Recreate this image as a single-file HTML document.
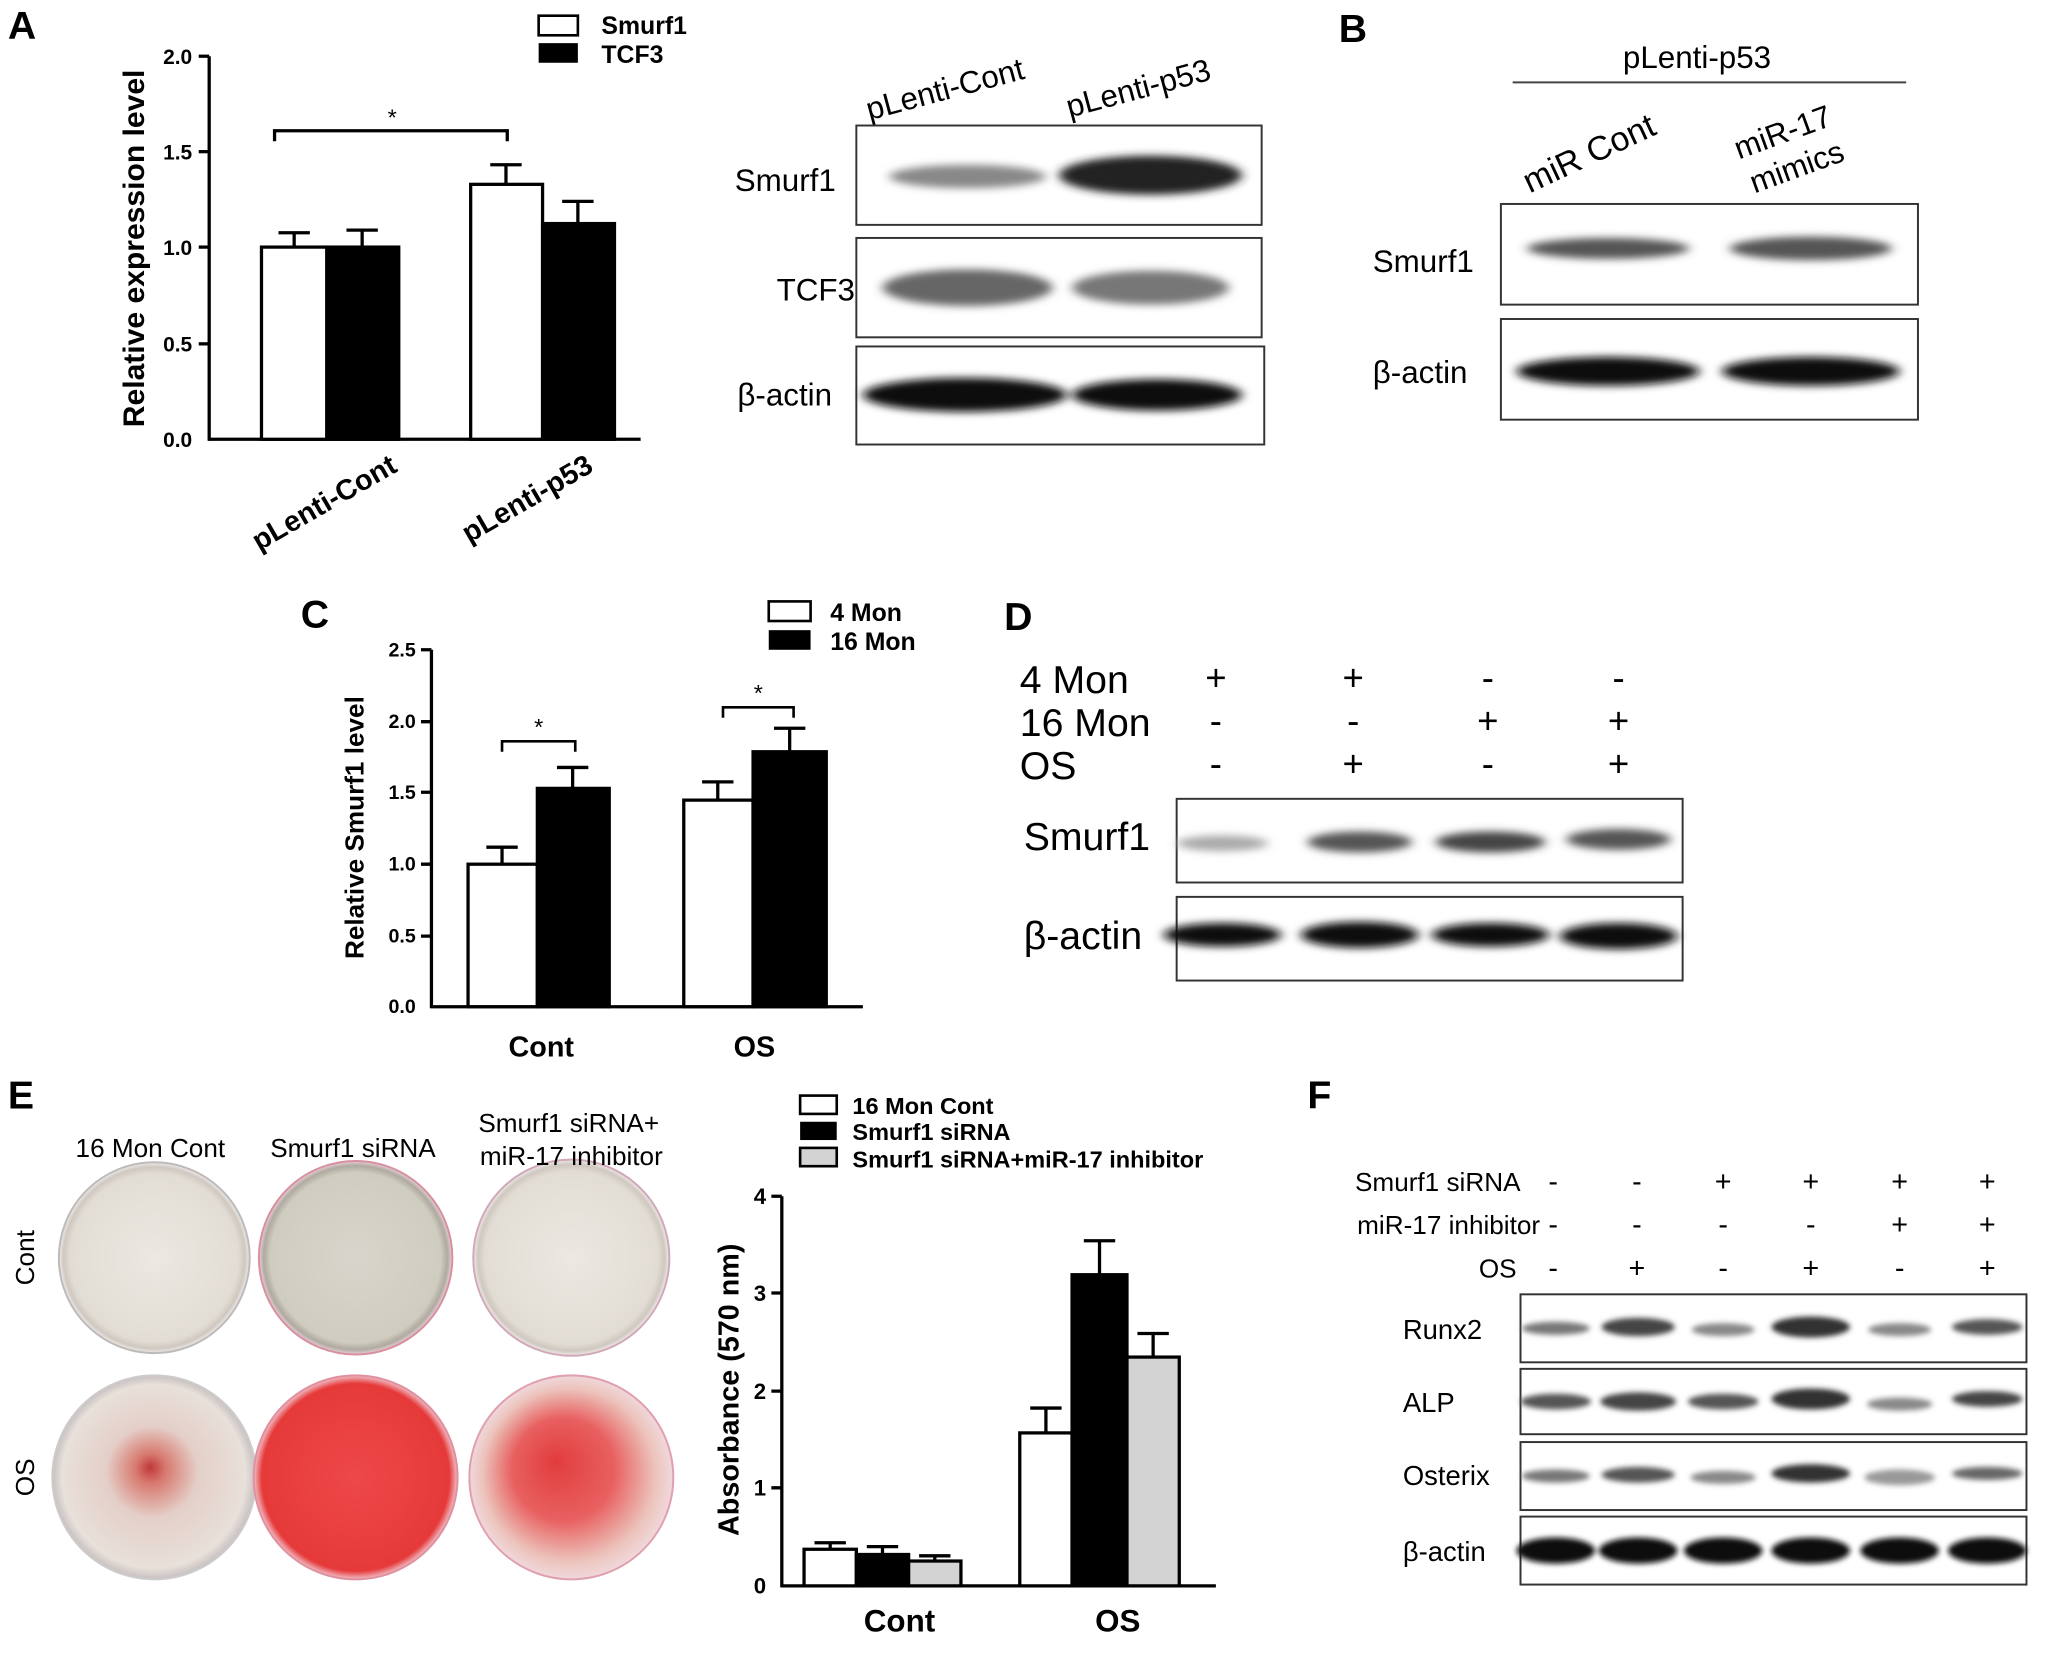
<!DOCTYPE html>
<html><head><meta charset="utf-8"><style>
html,body{margin:0;padding:0;background:#fff;}
svg{display:block;}
text{font-family:"Liberation Sans",Arial,sans-serif;}
</style></head><body>
<svg width="2050" height="1657" viewBox="0 0 1568 1267.4" xmlns="http://www.w3.org/2000/svg">
<defs>
<filter id="bl" x="-30%" y="-100%" width="160%" height="300%"><feGaussianBlur stdDeviation="4 3"/></filter>
<filter id="bl2" x="-30%" y="-100%" width="160%" height="300%"><feGaussianBlur stdDeviation="2"/></filter>
<radialGradient id="dw" cx="50%" cy="50%" r="50%"><stop offset="0" stop-color="#ece8e2"/><stop offset="0.88" stop-color="#e2ddd4"/><stop offset="0.95" stop-color="#cfc8c0"/><stop offset="1" stop-color="#f0eaea"/></radialGradient>
<radialGradient id="dg" cx="50%" cy="50%" r="50%"><stop offset="0" stop-color="#d8d6cc"/><stop offset="0.88" stop-color="#cfccc0"/><stop offset="0.95" stop-color="#b0aaa0"/><stop offset="1" stop-color="#e8d0d8"/></radialGradient>
<radialGradient id="dp" cx="50%" cy="50%" r="50%" fx="48%" fy="45%"><stop offset="0" stop-color="#c03838"/><stop offset="0.15" stop-color="#d87a70"/><stop offset="0.45" stop-color="#e4cfc8"/><stop offset="0.9" stop-color="#e8e0da"/><stop offset="1" stop-color="#c8c0c0"/></radialGradient>
<radialGradient id="dr" cx="50%" cy="50%" r="50%"><stop offset="0" stop-color="#ee4848"/><stop offset="0.92" stop-color="#e63a3a"/><stop offset="1" stop-color="#f0c0c8"/></radialGradient>
<radialGradient id="dr2" cx="50%" cy="50%" r="50%" fx="42%" fy="42%"><stop offset="0" stop-color="#e23c3c"/><stop offset="0.5" stop-color="#e86060"/><stop offset="0.85" stop-color="#ecc4bc"/><stop offset="1" stop-color="#f0d8dc"/></radialGradient>
</defs>

<g font-weight="bold" font-size="30">
<text x="6" y="30">A</text><text x="1024" y="32">B</text><text x="230" y="480">C</text>
<text x="768" y="482">D</text><text x="6" y="848">E</text><text x="1000" y="848">F</text>
</g>

<g stroke="#000" stroke-width="2.5" fill="none">
<line x1="160" y1="43" x2="160" y2="337"/><line x1="159" y1="336" x2="490" y2="336"/>
<line x1="152" y1="43" x2="160" y2="43"/><line x1="152" y1="116" x2="160" y2="116"/><line x1="152" y1="189" x2="160" y2="189"/><line x1="152" y1="263" x2="160" y2="263"/>
<rect x="200" y="189" width="50" height="147" fill="#fff"/><rect x="250" y="189" width="55" height="147" fill="#000"/>
<rect x="360" y="141" width="55" height="195" fill="#fff"/><rect x="415" y="171" width="55" height="165" fill="#000"/>
<path d="M225 189V178M213 178h24M277 189V176M265 176h24M387 141V126M375 126h24M442 171V154M430 154h24"/>
<path d="M210 108V100H388V108"/>
</g>
<g font-size="16" font-weight="bold" text-anchor="end">
<text x="147" y="49">2.0</text><text x="147" y="122">1.5</text><text x="147" y="195">1.0</text><text x="147" y="269">0.5</text><text x="147" y="342">0.0</text>
</g>
<text x="300" y="96" font-size="18" text-anchor="middle">*</text>
<text transform="translate(110,190) rotate(-90)" font-size="23" font-weight="bold" text-anchor="middle">Relative expression level</text>
<text transform="translate(305,360) rotate(-30)" font-size="22" font-weight="bold" text-anchor="end">pLenti-Cont</text>
<text transform="translate(455,360) rotate(-30)" font-size="22" font-weight="bold" text-anchor="end">pLenti-p53</text>
<rect x="412" y="12" width="30" height="15" fill="#fff" stroke="#000" stroke-width="2"/><rect x="412" y="33" width="30" height="15" fill="#000"/>
<text x="460" y="26" font-size="19" font-weight="bold">Smurf1</text><text x="460" y="48" font-size="19" font-weight="bold">TCF3</text>

<text transform="translate(665,92) rotate(-15)" font-size="24">pLenti-Cont</text>
<text transform="translate(818,90) rotate(-15)" font-size="24">pLenti-p53</text>
<g fill="#fff" stroke="#333" stroke-width="1.5">
<rect x="655" y="96" width="310" height="76"/><rect x="655" y="182" width="310" height="76"/><rect x="655" y="265" width="312" height="75"/>
</g>
<g font-size="24"><text x="562" y="146">Smurf1</text><text x="594" y="230">TCF3</text><text x="564" y="310">β-actin</text></g>
<g filter="url(#bl)">
<ellipse cx="740" cy="135" rx="60" ry="9" fill="#888"/><ellipse cx="880" cy="134" rx="70" ry="15" fill="#222"/>
<ellipse cx="740" cy="220" rx="65" ry="14" fill="#666"/><ellipse cx="880" cy="220" rx="60" ry="13" fill="#777"/>
<ellipse cx="738" cy="302" rx="78" ry="13" fill="#111"/><ellipse cx="885" cy="302" rx="65" ry="12" fill="#111"/>
</g>

<text x="1298" y="52" font-size="24" text-anchor="middle">pLenti-p53</text>
<line x1="1157" y1="63" x2="1458" y2="63" stroke="#444" stroke-width="1.5"/>
<text transform="translate(1170,148) rotate(-25)" font-size="26">miR Cont</text>
<text transform="translate(1330,122) rotate(-20)" font-size="24">miR-17</text>
<text transform="translate(1342,148) rotate(-20)" font-size="24">mimics</text>
<g fill="#fff" stroke="#333" stroke-width="1.5"><rect x="1148" y="156" width="319" height="77"/><rect x="1148" y="244" width="319" height="77"/></g>
<g font-size="24"><text x="1050" y="208">Smurf1</text><text x="1050" y="293">β-actin</text></g>
<g filter="url(#bl)">
<ellipse cx="1230" cy="190" rx="62" ry="8" fill="#555"/><ellipse cx="1385" cy="190" rx="62" ry="9" fill="#555"/>
<ellipse cx="1230" cy="284" rx="70" ry="11" fill="#111"/><ellipse cx="1385" cy="284" rx="68" ry="11" fill="#111"/>
</g>

<g stroke="#000" stroke-width="2.5" fill="none">
<line x1="330" y1="497" x2="330" y2="771"/><line x1="329" y1="770" x2="660" y2="770"/>
<path d="M322 497h8M322 552h8M322 606h8M322 661h8M322 716h8"/>
<rect x="358" y="661" width="53" height="109" fill="#fff"/><rect x="411" y="603" width="55" height="167" fill="#000"/>
<rect x="523" y="612" width="53" height="158" fill="#fff"/><rect x="576" y="575" width="56" height="195" fill="#000"/>
<path d="M384 661V648M372 648h24M438 603V587M426 587h24M549 612V598M537 598h24M604 575V557M592 557h24"/>
<path d="M384 575V567H440V575M553 549V541H607V549" stroke-width="2"/>
</g>
<g font-size="15" font-weight="bold" text-anchor="end">
<text x="318" y="502">2.5</text><text x="318" y="557">2.0</text><text x="318" y="611">1.5</text><text x="318" y="666">1.0</text><text x="318" y="721">0.5</text><text x="318" y="775">0.0</text>
</g>
<text x="412" y="562" font-size="18" text-anchor="middle">*</text><text x="580" y="536" font-size="18" text-anchor="middle">*</text>
<text transform="translate(278,633) rotate(-90)" font-size="20" font-weight="bold" text-anchor="middle">Relative Smurf1 level</text>
<text x="414" y="808" font-size="22" font-weight="bold" text-anchor="middle">Cont</text><text x="577" y="808" font-size="22" font-weight="bold" text-anchor="middle">OS</text>
<rect x="588" y="460" width="32" height="15" fill="#fff" stroke="#000" stroke-width="2"/><rect x="588" y="482" width="32" height="15" fill="#000"/>
<text x="635" y="475" font-size="19" font-weight="bold">4 Mon</text><text x="635" y="497" font-size="19" font-weight="bold">16 Mon</text>

<g font-size="30"><text x="780" y="530">4 Mon</text><text x="780" y="563">16 Mon</text><text x="780" y="596">OS</text></g>
<g font-size="28" text-anchor="middle">
<text x="930" y="528">+</text><text x="1035" y="528">+</text><text x="1138" y="528">-</text><text x="1238" y="528">-</text>
<text x="930" y="561">-</text><text x="1035" y="561">-</text><text x="1138" y="561">+</text><text x="1238" y="561">+</text>
<text x="930" y="594">-</text><text x="1035" y="594">+</text><text x="1138" y="594">-</text><text x="1238" y="594">+</text>
</g>
<g fill="#fff" stroke="#333" stroke-width="1.5"><rect x="900" y="611" width="387" height="64"/><rect x="900" y="686" width="387" height="64"/></g>
<g font-size="30"><text x="783" y="650">Smurf1</text><text x="783" y="726">β-actin</text></g>
<g filter="url(#bl)">
<ellipse cx="935" cy="645" rx="35" ry="6" fill="#aaa"/><ellipse cx="1040" cy="644" rx="40" ry="8" fill="#555"/>
<ellipse cx="1140" cy="644" rx="42" ry="8" fill="#444"/><ellipse cx="1238" cy="642" rx="40" ry="8" fill="#555"/>
<ellipse cx="935" cy="715" rx="45" ry="9" fill="#111"/><ellipse cx="1040" cy="715" rx="45" ry="10" fill="#111"/>
<ellipse cx="1140" cy="715" rx="45" ry="9" fill="#111"/><ellipse cx="1238" cy="716" rx="45" ry="10" fill="#111"/>
</g>

<circle cx="118" cy="962" r="73" fill="url(#dw)" stroke="#bbb" stroke-width="1.5"/>
<circle cx="272" cy="962" r="74" fill="url(#dg)" stroke="#d890a0" stroke-width="1.5"/>
<circle cx="437" cy="962" r="75" fill="url(#dw)" stroke="#d0a8b8" stroke-width="1.5"/>
<circle cx="118" cy="1130" r="78" fill="url(#dp)" stroke="#ccc" stroke-width="1.5"/>
<circle cx="272" cy="1130" r="78" fill="url(#dr)" stroke="#e090a0" stroke-width="1.5"/>
<circle cx="437" cy="1130" r="78" fill="url(#dr2)" stroke="#e0a0b0" stroke-width="1.5"/>
<g font-size="20"><text x="115" y="885" text-anchor="middle">16 Mon Cont</text><text x="270" y="885" text-anchor="middle">Smurf1 siRNA</text>
<text x="435" y="866" text-anchor="middle">Smurf1 siRNA+</text><text x="437" y="891" text-anchor="middle">miR-17 inhibitor</text></g>
<text transform="translate(26,962) rotate(-90)" font-size="20" text-anchor="middle">Cont</text>
<text transform="translate(26,1130) rotate(-90)" font-size="20" text-anchor="middle">OS</text>

<g stroke="#000" stroke-width="2.5" fill="none">
<line x1="598" y1="915" x2="598" y2="1214"/><line x1="597" y1="1213" x2="930" y2="1213"/>
<path d="M590 915h8M590 989h8M590 1064h8M590 1138h8"/>
<rect x="615" y="1185" width="40" height="28" fill="#fff"/><rect x="655" y="1189" width="40" height="24" fill="#000"/><rect x="695" y="1194" width="40" height="19" fill="#d3d3d3"/>
<rect x="780" y="1096" width="40" height="117" fill="#fff"/><rect x="820" y="975" width="42" height="238" fill="#000"/><rect x="862" y="1038" width="40" height="175" fill="#d3d3d3"/>
<path d="M635 1185V1180M623 1180h24M675 1189V1183M663 1183h24M715 1194V1190M703 1190h24"/>
<path d="M800 1096V1077M788 1077h24M841 975V949M829 949h24M882 1038V1020M870 1020h24"/>
</g>
<g font-size="17" font-weight="bold" text-anchor="end">
<text x="586" y="921">4</text><text x="586" y="995">3</text><text x="586" y="1070">2</text><text x="586" y="1144">1</text><text x="586" y="1219">0</text>
</g>
<text transform="translate(565,1063) rotate(-90)" font-size="22" font-weight="bold" text-anchor="middle">Absorbance (570 nm)</text>
<text x="688" y="1248" font-size="24" font-weight="bold" text-anchor="middle">Cont</text><text x="855" y="1248" font-size="24" font-weight="bold" text-anchor="middle">OS</text>
<rect x="612" y="838" width="28" height="14" fill="#fff" stroke="#000" stroke-width="2"/><rect x="612" y="858" width="28" height="14" fill="#000"/><rect x="612" y="878" width="28" height="14" fill="#d3d3d3" stroke="#000" stroke-width="2"/>
<g font-size="18" font-weight="bold"><text x="652" y="852">16 Mon Cont</text><text x="652" y="872">Smurf1 siRNA</text><text x="652" y="893">Smurf1 siRNA+miR-17 inhibitor</text></g>

<g font-size="20" text-anchor="end"><text x="1163" y="911">Smurf1 siRNA</text><text x="1178" y="944">miR-17 inhibitor</text><text x="1160" y="977">OS</text></g>
<g font-size="22" text-anchor="middle">
<text x="1188" y="911">-</text><text x="1252" y="911">-</text><text x="1318" y="911">+</text><text x="1385" y="911">+</text><text x="1453" y="911">+</text><text x="1520" y="911">+</text>
<text x="1188" y="944">-</text><text x="1252" y="944">-</text><text x="1318" y="944">-</text><text x="1385" y="944">-</text><text x="1453" y="944">+</text><text x="1520" y="944">+</text>
<text x="1188" y="977">-</text><text x="1252" y="977">+</text><text x="1318" y="977">-</text><text x="1385" y="977">+</text><text x="1453" y="977">-</text><text x="1520" y="977">+</text>
</g>
<g fill="#fff" stroke="#333" stroke-width="1.5">
<rect x="1163" y="990" width="387" height="52"/><rect x="1163" y="1047" width="387" height="50"/><rect x="1163" y="1103" width="387" height="52"/><rect x="1163" y="1160" width="387" height="52"/>
</g>
<g font-size="21"><text x="1073" y="1024">Runx2</text><text x="1073" y="1080">ALP</text><text x="1073" y="1136">Osterix</text><text x="1073" y="1194">β-actin</text></g>
<g filter="url(#bl2)">
<ellipse cx="1190" cy="1016" rx="26" ry="5" fill="#777"/><ellipse cx="1253" cy="1015" rx="28" ry="7" fill="#444"/><ellipse cx="1318" cy="1017" rx="24" ry="5" fill="#888"/>
<ellipse cx="1385" cy="1015" rx="30" ry="8" fill="#333"/><ellipse cx="1453" cy="1017" rx="24" ry="5" fill="#888"/><ellipse cx="1520" cy="1015" rx="27" ry="6" fill="#555"/>
<ellipse cx="1190" cy="1072" rx="27" ry="6" fill="#555"/><ellipse cx="1253" cy="1072" rx="29" ry="7" fill="#444"/><ellipse cx="1318" cy="1072" rx="27" ry="6" fill="#555"/>
<ellipse cx="1385" cy="1070" rx="30" ry="8" fill="#333"/><ellipse cx="1453" cy="1074" rx="25" ry="5" fill="#888"/><ellipse cx="1520" cy="1070" rx="27" ry="6" fill="#444"/>
<ellipse cx="1190" cy="1129" rx="26" ry="5" fill="#777"/><ellipse cx="1253" cy="1128" rx="28" ry="6" fill="#555"/><ellipse cx="1318" cy="1130" rx="25" ry="5" fill="#888"/>
<ellipse cx="1385" cy="1127" rx="30" ry="7" fill="#333"/><ellipse cx="1453" cy="1130" rx="27" ry="6" fill="#999"/><ellipse cx="1520" cy="1127" rx="27" ry="5" fill="#666"/>
<ellipse cx="1190" cy="1186" rx="30" ry="10" fill="#111"/><ellipse cx="1253" cy="1186" rx="30" ry="10" fill="#111"/><ellipse cx="1318" cy="1186" rx="30" ry="10" fill="#111"/>
<ellipse cx="1385" cy="1186" rx="30" ry="10" fill="#111"/><ellipse cx="1453" cy="1186" rx="30" ry="10" fill="#111"/><ellipse cx="1520" cy="1186" rx="30" ry="10" fill="#111"/>
</g>
</svg>
</body></html>
